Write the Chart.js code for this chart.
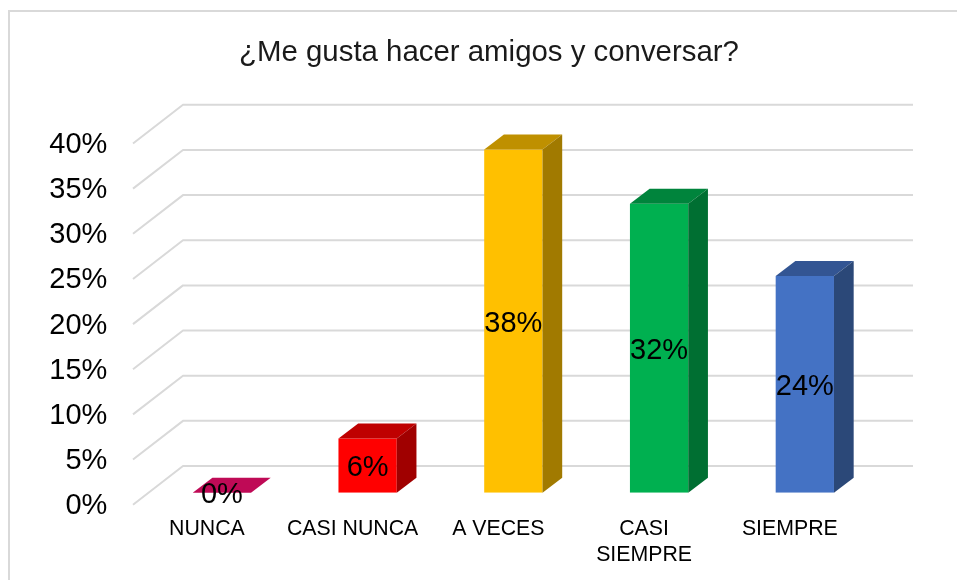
<!DOCTYPE html>
<html>
<head>
<meta charset="utf-8">
<style>
html,body{margin:0;padding:0;background:#fff;overflow:hidden}
#wrap{position:absolute;left:0;top:0;width:957px;height:580px}
</style>
<script src="https://cdn.jsdelivr.net/npm/chart.js@4"></script>
</head>
<body>
<div id="wrap"><canvas id="c" width="957" height="580"></canvas></div>
<script>
const titleText = "¿Me gusta hacer amigos y conversar?";
const categories = ["NUNCA", "CASI NUNCA", "A VECES", ["CASI", "SIEMPRE"], "SIEMPRE"];
const values = [0, 6, 38, 32, 24];
const yMin = 0, yMax = 40, yStep = 5;

const frontColors = ["#FF0D72", "#FF0000", "#FFC000", "#00B050", "#4472C4"];
const topColors   = ["#BF0A56", "#BF0000", "#BF9000", "#00843C", "#335593"];
const sideColors  = ["#A00636", "#A00000", "#A17A00", "#006F32", "#2B4878"];

const font = "'Liberation Sans', Arial, sans-serif";
const BAR_DX = 19.7, BAR_DY = 15;
const FLOOR_FRONT_X = 133, FLOOR_BACK_X = 183, WALL_RIGHT_X = 913;
const FLOOR_FRONT_DY = 12, FLOOR_BACK_DY = -26.7;

const scene3d = {
  id: "scene3d",
  afterLayout(chart) {
    // widen the y axis clip box so that its labels, set far from the plot, stay visible
    chart.scales.y.left = 30;
  },
  beforeDraw(chart) {
    const c = chart.ctx;
    c.save();
    c.strokeStyle = "#d9d9d9";
    c.lineWidth = 2;
    c.beginPath();
    c.moveTo(9, 580); c.lineTo(9, 11); c.lineTo(957, 11);
    c.stroke();
    c.restore();
  },
  beforeDatasetsDraw(chart) {
    const c = chart.ctx, y = chart.scales.y;
    c.save();
    c.strokeStyle = "#d9d9d9";
    c.lineWidth = 2;
    c.lineJoin = "round";
    y.ticks.forEach(t => {
      const p = y.getPixelForValue(t.value);
      c.beginPath();
      c.moveTo(FLOOR_FRONT_X, p + FLOOR_FRONT_DY);
      c.lineTo(FLOOR_BACK_X, p + FLOOR_BACK_DY);
      c.lineTo(WALL_RIGHT_X, p + FLOOR_BACK_DY);
      c.stroke();
    });
    c.restore();
  },
  afterDatasetsDraw(chart) {
    const c = chart.ctx, meta = chart.getDatasetMeta(0);
    c.save();
    meta.data.forEach((b, i) => {
      const l = b.x - b.width / 2, r = b.x + b.width / 2, t = b.y, bot = b.base;
      c.fillStyle = topColors[i];
      c.beginPath();
      c.moveTo(l, t); c.lineTo(r, t);
      c.lineTo(r + BAR_DX, t - BAR_DY); c.lineTo(l + BAR_DX, t - BAR_DY);
      c.closePath(); c.fill();
      if (bot - t > 0.5) {
        c.fillStyle = sideColors[i];
        c.beginPath();
        c.moveTo(r, t); c.lineTo(r + BAR_DX, t - BAR_DY);
        c.lineTo(r + BAR_DX, bot - BAR_DY); c.lineTo(r, bot);
        c.closePath(); c.fill();
      }
    });
    c.fillStyle = "#000";
    c.font = "29px " + font;
    c.textAlign = "center";
    c.textBaseline = "middle";
    meta.data.forEach((b, i) => {
      c.fillText(values[i] + "%", b.x, (b.y + b.base) / 2 + 2.5);
    });
    c.restore();
  }
};

new Chart(document.getElementById("c"), {
  type: "bar",
  data: {
    labels: categories,
    datasets: [{ data: values, backgroundColor: frontColors, borderWidth: 0,
      barPercentage: 1, categoryPercentage: 0.4 }]
  },
  plugins: [scene3d],
  options: {
    responsive: false,
    animation: false,
    layout: { padding: { left: 100.3, right: 79.3, top: 0, bottom: 0 } },
    plugins: {
      legend: { display: false },
      tooltip: { enabled: false },
      title: {
        display: true,
        text: titleText,
        color: "#1a1a1a",
        font: { family: font, size: 29.4, weight: "normal", lineHeight: 1.2 },
        padding: { top: 35.5, bottom: 60.7 }
      }
    },
    scales: {
      x: {
        grid: { display: false, drawTicks: false },
        border: { display: false },
        afterFit(s) { s.height = 87.3; },
        ticks: {
          color: "#000",
          font: { family: font, size: 21.3, lineHeight: 1.19 },
          padding: 24,
          labelOffset: -15,
          autoSkip: false,
          maxRotation: 0,
          minRotation: 0
        }
      },
      y: {
        min: yMin, max: yMax,
        grid: { display: false, drawTicks: false },
        border: { display: false },
        afterFit(s) { s.width = 48.7; },
        ticks: {
          stepSize: yStep,
          color: "#000",
          font: { family: font, size: 29 },
          padding: 41.7,
          labelOffset: 13.5,
          callback: v => v + "%"
        }
      }
    }
  }
});
</script>
</body>
</html>
